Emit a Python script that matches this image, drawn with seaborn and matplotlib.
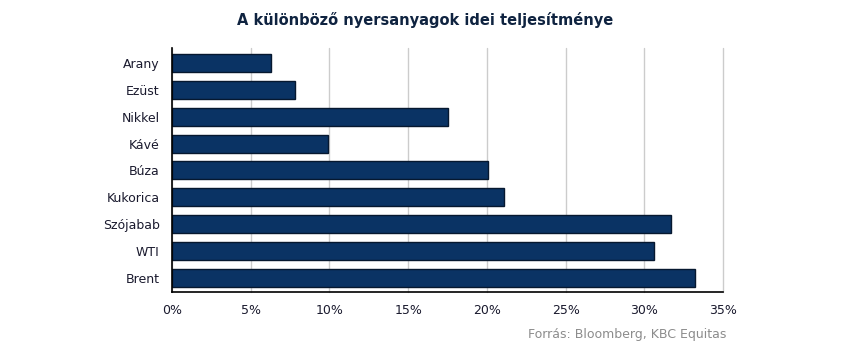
import matplotlib
matplotlib.use('Agg')
import matplotlib.pyplot as plt
import seaborn as sns
import pandas as pd
from matplotlib.ticker import FuncFormatter

commodities = ['Arany', 'Ezüst', 'Nikkel', 'Kávé', 'Búza', 'Kukorica', 'Szójabab', 'WTI', 'Brent']
performance = [6.3, 7.8, 17.5, 9.9, 20.1, 21.1, 31.7, 30.6, 33.2]
xticks = [0, 5, 10, 15, 20, 25, 30, 35]

df = pd.DataFrame({'nyersanyag': commodities, 'hozam': performance})

sns.set_theme(style='white')
plt.rcParams['font.family'] = ['DejaVu Sans']

fig = plt.figure(figsize=(8.5, 3.58), dpi=100)
ax = fig.add_axes([0.2024, 0.1844, 0.6482, 0.6816])

sns.barplot(data=df, x='hozam', y='nyersanyag', orient='h', color='#0a3364',
            edgecolor='#06182f', linewidth=1.0, width=0.67, saturation=1, ax=ax)

ax.set_xlim(0, 35)
ax.set_ylim(8.53, -0.56)
ax.set_xticks(xticks)
ax.xaxis.set_major_formatter(FuncFormatter(lambda v, p: '{:.0f}%'.format(v)))
ax.grid(axis='x', color='#cccccc', linewidth=1)
for line in ax.get_xgridlines():
    line.set_clip_on(False)
ax.set_axisbelow(True)
ax.set_xlabel('')
ax.set_ylabel('')
for s in ['top', 'right']:
    ax.spines[s].set_visible(False)
for s in ['left', 'bottom']:
    ax.spines[s].set_color('black')
    ax.spines[s].set_linewidth(1.2)
ax.tick_params(axis='both', length=0, labelsize=9, colors='#1a1a2e')
ax.tick_params(axis='y', pad=9)
ax.tick_params(axis='x', pad=9)

fig.text(0.5, 0.945, 'A különböző nyersanyagok idei teljesítménye', ha='center', va='center',
         fontsize=10.5, fontweight='bold', color='#0f2340')
fig.text(0.855, 0.065, 'Forrás: Bloomberg, KBC Equitas', ha='right', va='center',
         fontsize=9, color='#8c8c8c')

fig.savefig('out.png', dpi=100)
